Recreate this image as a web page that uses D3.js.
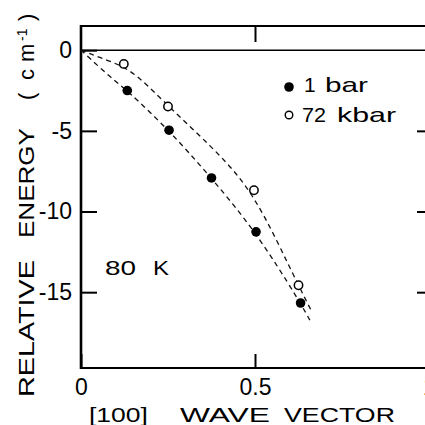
<!DOCTYPE html>
<html>
<head>
<meta charset="utf-8">
<script src="https://cdn.jsdelivr.net/npm/d3@7"></script>
<style>
    body { margin: 0; background: #fff; }
    svg { display: block; font-family: "Liberation Sans", Arial, sans-serif; }
    .axis .domain { display: none; }
    .axis line { stroke: #000; stroke-width: 2; }
    .axis text { font-size: 23px; fill: #000; font-family: "Liberation Sans", Arial, sans-serif; }
    .frame { stroke: #000; fill: none; }
    .fit { fill: none; stroke: #111; stroke-width: 1.3; stroke-dasharray: 5,4; }
    .label { fill: #000; }
</style>
</head>
<body>
<div id="container"></div>
<script>
//phonon relative energy vs [100] wave vector, 80 K, two pressures

//axis ticks
var xTicks = [0, 0.5, 1];
var xTickLabels = ["0", "0.5", "1"];
var yTicks = [0, -5, -10, -15];
var yTickLabels = ["0", "-5", "-10", "-15"];

//measured points, 1 bar (filled)
var bar1Wave = [0.133, 0.253, 0.375, 0.503, 0.631];
var bar1Energy = [-2.5, -4.96, -7.92, -11.26, -15.67];

//measured points, 72 kbar (open)
var kbar72Wave = [0.123, 0.25, 0.497, 0.625];
var kbar72Energy = [-0.85, -3.49, -8.68, -14.57];

//dashed guide curves
var fit1Wave = [0, 0.026, 0.083, 0.133, 0.253, 0.375, 0.503, 0.631, 0.663];
var fit1Energy = [0, -0.52, -1.65, -2.5, -4.96, -7.92, -11.26, -15.67, -16.95];
var fit72Wave = [0, 0.05, 0.123, 0.174, 0.25, 0.376, 0.462, 0.529, 0.596, 0.644, 0.663];
var fit72Energy = [0, -0.42, -1.0, -1.8, -3.45, -6.0, -7.96, -10.3, -13.3, -15.4, -16.2];

(function(){
    var width = 425,
        height = 425;

    var svg = d3.select("#container")
        .append("svg")
        .attr("width", width)
        .attr("height", height);

    //scales (right edge of frame falls just outside the picture)
    var x = d3.scaleLinear().domain([0, 1]).range([81, 429]);
    var y = d3.scaleLinear().domain([-19.7, 1.5]).range([368, 26]);

    //frame lines
    svg.append("line").attr("class", "frame")
        .attr("x1", x(0)).attr("x2", x(0)).attr("y1", y(1.5) - 1).attr("y2", y(-19.7) + 1)
        .style("stroke-width", 2.6);
    svg.append("line").attr("class", "frame")
        .attr("x1", x(0)).attr("x2", x(1)).attr("y1", y(1.5)).attr("y2", y(1.5))
        .style("stroke-width", 2);
    svg.append("line").attr("class", "frame")
        .attr("x1", x(0)).attr("x2", x(1)).attr("y1", y(-19.7)).attr("y2", y(-19.7))
        .style("stroke-width", 2.2);
    svg.append("line").attr("class", "frame")
        .attr("x1", x(1)).attr("x2", x(1)).attr("y1", y(1.5)).attr("y2", y(-19.7))
        .style("stroke-width", 2);
    //zero line
    svg.append("line").attr("class", "frame")
        .attr("x1", x(0)).attr("x2", x(1)).attr("y1", y(0)).attr("y2", y(0))
        .style("stroke-width", 1.6);

    //left axis, ticks pointing inward
    svg.append("g")
        .attr("class", "axis")
        .attr("transform", "translate(" + x(0) + ",0)")
        .call(d3.axisLeft(y)
            .tickValues(yTicks)
            .tickFormat(function(d, i){ return yTickLabels[i]; })
            .tickSizeInner(-16)
            .tickSizeOuter(0)
            .tickPadding(9));

    //right axis, ticks only
    svg.append("g")
        .attr("class", "axis")
        .attr("transform", "translate(" + x(1) + ",0)")
        .call(d3.axisRight(y)
            .tickValues(yTicks.slice(1))
            .tickFormat("")
            .tickSizeInner(-12)
            .tickSizeOuter(0));

    //bottom axis
    svg.append("g")
        .attr("class", "axis")
        .attr("transform", "translate(0," + y(-19.7) + ")")
        .call(d3.axisBottom(x)
            .tickValues(xTicks)
            .tickFormat(function(d, i){ return xTickLabels[i]; })
            .tickSizeInner(-14)
            .tickSizeOuter(0)
            .tickPadding(11));

    //top axis, tick only
    svg.append("g")
        .attr("class", "axis")
        .attr("transform", "translate(0," + y(1.5) + ")")
        .call(d3.axisTop(x)
            .tickValues([0.5])
            .tickFormat("")
            .tickSizeInner(-16)
            .tickSizeOuter(0));

    //dashed curves
    var line = d3.line()
        .x(function(d){ return x(d[0]); })
        .y(function(d){ return y(d[1]); })
        .curve(d3.curveBasis);

    svg.append("path")
        .attr("class", "fit")
        .attr("d", line(d3.zip(fit1Wave, fit1Energy)));
    svg.append("path")
        .attr("class", "fit")
        .attr("d", line(d3.zip(fit72Wave, fit72Energy)));

    //data points
    svg.selectAll(".bar1")
        .data(d3.zip(bar1Wave, bar1Energy))
        .enter()
        .append("circle")
        .attr("class", "bar1")
        .attr("cx", function(d){ return x(d[0]); })
        .attr("cy", function(d){ return y(d[1]); })
        .attr("r", 4.8)
        .style("fill", "#000");

    svg.selectAll(".kbar72")
        .data(d3.zip(kbar72Wave, kbar72Energy))
        .enter()
        .append("circle")
        .attr("class", "kbar72")
        .attr("cx", function(d){ return x(d[0]); })
        .attr("cy", function(d){ return y(d[1]); })
        .attr("r", 4.2)
        .style("fill", "#fff")
        .style("stroke", "#000")
        .style("stroke-width", 1.5);

    //legend
    svg.append("circle").attr("cx", 289).attr("cy", 87).attr("r", 4.8).style("fill", "#000");
    svg.append("circle").attr("cx", 289).attr("cy", 115).attr("r", 3.8)
        .style("fill", "#fff").style("stroke", "#000").style("stroke-width", 1.4);

    function addText(str, px, py, size, len){
        var t = svg.append("text")
            .attr("class", "label")
            .attr("x", px)
            .attr("y", py)
            .style("font-size", size + "px")
            .text(str);
        if (len) t.attr("textLength", len).attr("lengthAdjust", "spacingAndGlyphs");
        return t;
    }

    addText("1", 304, 92, 21);
    addText("bar", 325, 92, 21, 43);
    addText("72", 302, 122, 21, 24);
    addText("kbar", 337, 122, 21, 59);

    //temperature
    addText("80", 105, 275, 21, 31);
    addText("K", 153, 275, 21, 16);

    //x axis title
    addText("[100]", 89, 422, 21, 59);
    addText("WAVE", 180, 422, 21, 90);
    addText("VECTOR", 284, 422, 21, 111);

    //y axis title, rotated
    var yt = svg.append("g")
        .attr("transform", "translate(34,397) rotate(-90)");
    yt.append("text").attr("class", "label").attr("x", 0).attr("y", 0)
        .style("font-size", "22px")
        .attr("textLength", 137).attr("lengthAdjust", "spacingAndGlyphs")
        .text("RELATIVE");
    yt.append("text").attr("class", "label").attr("x", 159).attr("y", 0)
        .style("font-size", "22px")
        .attr("textLength", 110).attr("lengthAdjust", "spacingAndGlyphs")
        .text("ENERGY");
    yt.append("text").attr("class", "label").attr("x", 297).attr("y", 0)
        .style("font-size", "22px").text("(");
    yt.append("text").attr("class", "label").attr("x", 317).attr("y", 0)
        .style("font-size", "22px").text("c");
    yt.append("text").attr("class", "label").attr("x", 335).attr("y", 0)
        .style("font-size", "22px").text("m");
    yt.append("text").attr("class", "label").attr("x", 356).attr("y", -7)
        .style("font-size", "14px").text("-1");
    yt.append("text").attr("class", "label").attr("x", 376).attr("y", 0)
        .style("font-size", "22px").text(")");
})();
</script>
</body>
</html>
